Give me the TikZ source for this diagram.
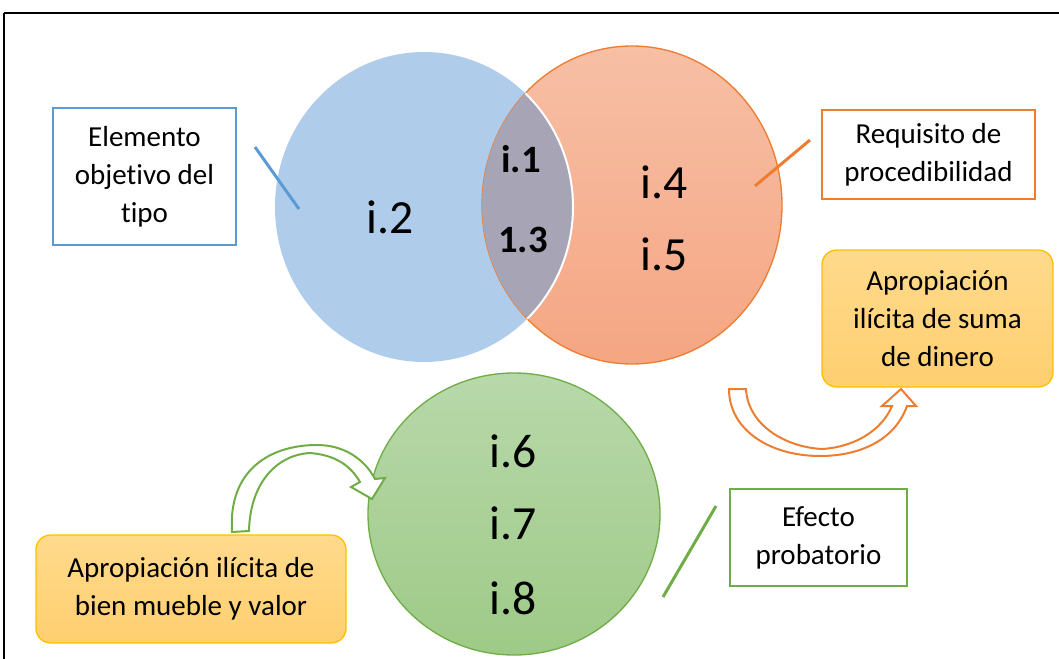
\documentclass[tikz,border=0pt]{standalone}
\usepackage{fontspec}
\setmainfont{Carlito}[Ligatures={NoCommon}]
\usetikzlibrary{positioning,
        shapes,
        arrows.meta,
        fit}
\usepackage{xcolor}

\definecolor{blueF}{RGB}{175,205,234}
\definecolor{blueL}{RGB}{91,155,213}
\definecolor{orangeT}{RGB}{247,191,165}
\definecolor{orangeB}{RGB}{245,166,131}
\definecolor{orangeL}{RGB}{237,125,49}
\definecolor{lensF}{RGB}{166,164,181}
\definecolor{greenT}{RGB}{184,216,170}
\definecolor{greenB}{RGB}{158,202,135}
\definecolor{greenL}{RGB}{112,173,71}
\definecolor{yelT}{RGB}{255,218,140}
\definecolor{yelB}{RGB}{255,207,112}
\definecolor{gold}{RGB}{255,192,0}

\newcommand{\boxfont}{\fontsize{21.75}{28.5}\selectfont}
\newcommand{\numfont}{\fontsize{35.7}{40}\selectfont}
\newcommand{\boldnum}{\fontsize{29}{32}\selectfont\bfseries}

\begin{document}
\begin{tikzpicture}[x=0.75pt,y=-0.75pt,
        callout/.style={draw,line width=1.5pt,fill=white,align=center,font=\boxfont,inner sep=2pt},
        roundbox/.style={draw=gold,line width=1pt,rounded corners=11pt,top color=yelT,bottom color=yelB,
                         align=center,font=\boxfont,inner sep=2pt},
        num/.style={font=\numfont,inner sep=0pt},
        bnum/.style={font=\boldnum,inner sep=0pt},
        pointer/.style={line width=2.25pt},
        bent/.style={fill=white,line width=1.5pt,line join=miter}]
            \useasboundingbox (0,0) rectangle (1059,659);
            % frame
            \draw [line width=1pt] (4,659) -- (4,13);
            \draw [line width=1.5pt] (4,13) -- (1059,13);

            % venn part
            \fill [blueF] (424,207) ellipse [x radius=149, y radius=155];
            \shade [top color=orangeT,bottom color=orangeB] (632,205) ellipse [x radius=150, y radius=159];
            \draw [orangeL,line width=1pt] (632,205) ellipse [x radius=150, y radius=159];
            \begin{scope}
                \clip (424,207) ellipse [x radius=149, y radius=155];
                \fill [lensF] (632,205) ellipse [x radius=150, y radius=159];
            \end{scope}
            \begin{scope}
                \clip (632,205) ellipse [x radius=150, y radius=159];
                \draw [white,line width=1.5pt] (424,207) ellipse [x radius=149, y radius=155];
            \end{scope}
            \shade [top color=greenT,bottom color=greenB] (514,514) ellipse [x radius=146, y radius=141];
            \draw [greenL,line width=1pt] (514,514) ellipse [x radius=146, y radius=141];

            \node [num] (n2) at (390,217) {i.2};
            \node [bnum] (n1) at (521,159) {i.1};
            \node [bnum] (n3) at (523,240) {1.3};
            \node [num] (n4) at (664,182) {i.4};
            \node [num] (n5) at (664,254) {i.5};
            \node [num] (n6) at (513,451) {i.6};
            \node [num] (n7) at (513,523) {i.7};
            \node [num] (n8) at (513,598) {i.8};

            % text boxes
            \node [callout,draw=blueL,minimum width=137.25pt,minimum height=102.75pt] (elem) at (144.5,176.5)
                {Elemento\\objetivo del\\tipo};
            \node [callout,draw=orangeL,minimum width=159.75pt,minimum height=66.75pt] (req) at (928.5,154.5)
                {Requisito de\\procedibilidad};
            \node [callout,draw=greenL,minimum width=132.75pt,minimum height=72.75pt] (efec) at (818.5,537.5)
                {Efecto\\probatorio};
            \node [roundbox,minimum width=173.25pt,minimum height=102.75pt] (suma) at (937.5,318.5)
                {Apropiación\\ilícita de suma\\de dinero};
            \node [roundbox,minimum width=232.5pt,minimum height=81pt] (bien) at (191,589)
                {Apropiación ilícita de\\bien mueble y valor};

            % pointer lines
            \coordinate (pb1) at (255,147);
            \coordinate (pb2) at (299,209);
            \coordinate (po1) at (810,140);
            \coordinate (po2) at (755,186);
            \coordinate (pg1) at (716,506);
            \coordinate (pg2) at (663,597);
            \draw [pointer,blueL] (pb1) -- (pb2);
            \draw [pointer,orangeL] (po1) -- (po2);
            \draw [pointer,greenL] (pg1) -- (pg2);

            % bent arrows
            \draw [bent,draw=orangeL] (729,389) -- (746,389)
                .. controls (748,425) and (785,447) .. (822,449)
                .. controls (855,447) and (882,430) .. (892,406)
                -- (882,406) -- (901,389) -- (916,406) -- (907,406)
                .. controls (895,440) and (860,456) .. (820,456)
                .. controls (770,456) and (729,430) .. (729,389) -- cycle;
            \draw [bent,draw=greenL] (232,532)
                .. controls (228,470) and (270,445) .. (317,445)
                .. controls (345,445) and (365,460) .. (375,479)
                -- (385,478) -- (372,499) -- (351,487) -- (360,482)
                .. controls (350,465) and (335,455) .. (310,453)
                .. controls (275,455) and (250,485) .. (249,531) -- cycle;
        \end{tikzpicture}
\end{document}
